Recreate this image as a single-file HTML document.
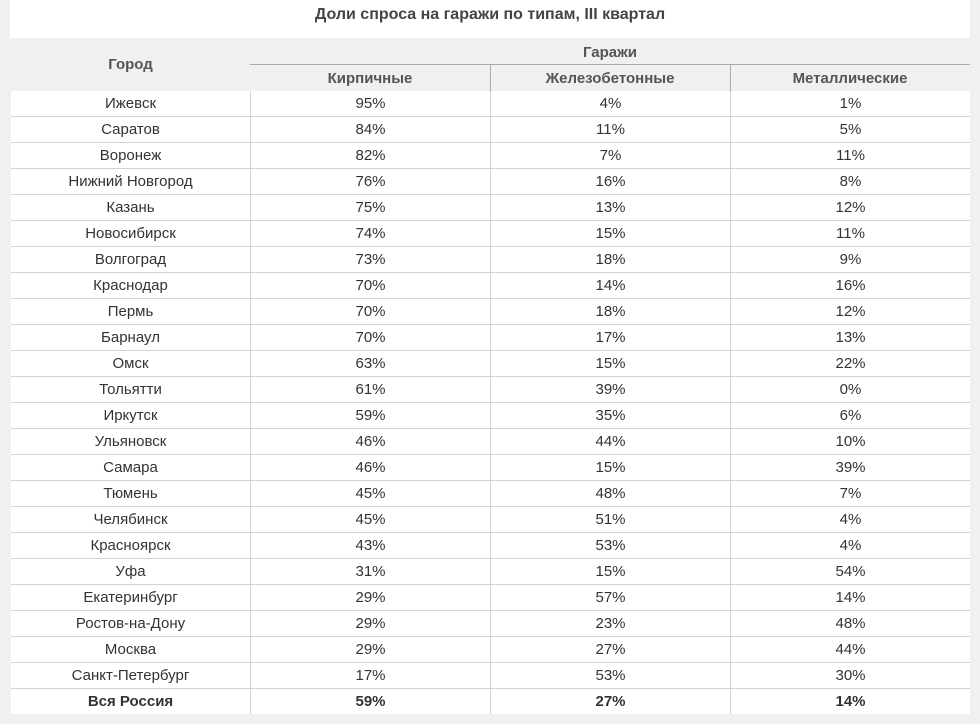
<!DOCTYPE html>
<html><head><meta charset="utf-8"><style>
body{margin:0;width:980px;height:724px;background:#f0f0f0;font-family:"Liberation Sans","DejaVu Sans",sans-serif;position:relative;overflow:hidden}
.title{position:absolute;left:10px;top:0;width:960px;height:38px;background:#fff;text-align:center;font-weight:bold;font-size:16px;line-height:30px;color:#444}
.hd{position:absolute;color:#555;font-weight:bold;font-size:15px;text-align:center}
table{position:absolute;left:11px;top:91px;width:959px;border-collapse:collapse;background:#fff;font-size:15px;color:#333}
td{height:25px;padding:0;text-align:center;border-top:1px solid #d3d3d3;border-left:1px solid #d3d3d3;line-height:25px}
tr:first-child td{border-top:none}
td:first-child{border-left:none;width:239px}
td.c{width:239px}
.b td{font-weight:bold}
</style></head><body>
<div class="title">Доли спроса на гаражи по типам, III квартал</div>
<div class="hd" style="left:11px;top:56px;width:239px">Город</div>
<div class="hd" style="left:250px;top:44px;width:720px">Гаражи</div>
<div style="position:absolute;left:250px;top:64px;width:720px;height:1px;background:#aaa"></div>
<div style="position:absolute;left:490px;top:64px;width:1px;height:27px;background:#aaa"></div>
<div style="position:absolute;left:730px;top:64px;width:1px;height:27px;background:#aaa"></div>
<div class="hd" style="left:250px;top:70px;width:240px">Кирпичные</div>
<div class="hd" style="left:490px;top:70px;width:240px">Железобетонные</div>
<div class="hd" style="left:730px;top:70px;width:240px">Металлические</div>
<table>
<tr><td>Ижевск</td><td class="c">95%</td><td class="c">4%</td><td>1%</td></tr>
<tr><td>Саратов</td><td class="c">84%</td><td class="c">11%</td><td>5%</td></tr>
<tr><td>Воронеж</td><td class="c">82%</td><td class="c">7%</td><td>11%</td></tr>
<tr><td>Нижний Новгород</td><td class="c">76%</td><td class="c">16%</td><td>8%</td></tr>
<tr><td>Казань</td><td class="c">75%</td><td class="c">13%</td><td>12%</td></tr>
<tr><td>Новосибирск</td><td class="c">74%</td><td class="c">15%</td><td>11%</td></tr>
<tr><td>Волгоград</td><td class="c">73%</td><td class="c">18%</td><td>9%</td></tr>
<tr><td>Краснодар</td><td class="c">70%</td><td class="c">14%</td><td>16%</td></tr>
<tr><td>Пермь</td><td class="c">70%</td><td class="c">18%</td><td>12%</td></tr>
<tr><td>Барнаул</td><td class="c">70%</td><td class="c">17%</td><td>13%</td></tr>
<tr><td>Омск</td><td class="c">63%</td><td class="c">15%</td><td>22%</td></tr>
<tr><td>Тольятти</td><td class="c">61%</td><td class="c">39%</td><td>0%</td></tr>
<tr><td>Иркутск</td><td class="c">59%</td><td class="c">35%</td><td>6%</td></tr>
<tr><td>Ульяновск</td><td class="c">46%</td><td class="c">44%</td><td>10%</td></tr>
<tr><td>Самара</td><td class="c">46%</td><td class="c">15%</td><td>39%</td></tr>
<tr><td>Тюмень</td><td class="c">45%</td><td class="c">48%</td><td>7%</td></tr>
<tr><td>Челябинск</td><td class="c">45%</td><td class="c">51%</td><td>4%</td></tr>
<tr><td>Красноярск</td><td class="c">43%</td><td class="c">53%</td><td>4%</td></tr>
<tr><td>Уфа</td><td class="c">31%</td><td class="c">15%</td><td>54%</td></tr>
<tr><td>Екатеринбург</td><td class="c">29%</td><td class="c">57%</td><td>14%</td></tr>
<tr><td>Ростов-на-Дону</td><td class="c">29%</td><td class="c">23%</td><td>48%</td></tr>
<tr><td>Москва</td><td class="c">29%</td><td class="c">27%</td><td>44%</td></tr>
<tr><td>Санкт-Петербург</td><td class="c">17%</td><td class="c">53%</td><td>30%</td></tr>
<tr class="b"><td>Вся Россия</td><td class="c">59%</td><td class="c">27%</td><td>14%</td></tr>
</table>
</body></html>
